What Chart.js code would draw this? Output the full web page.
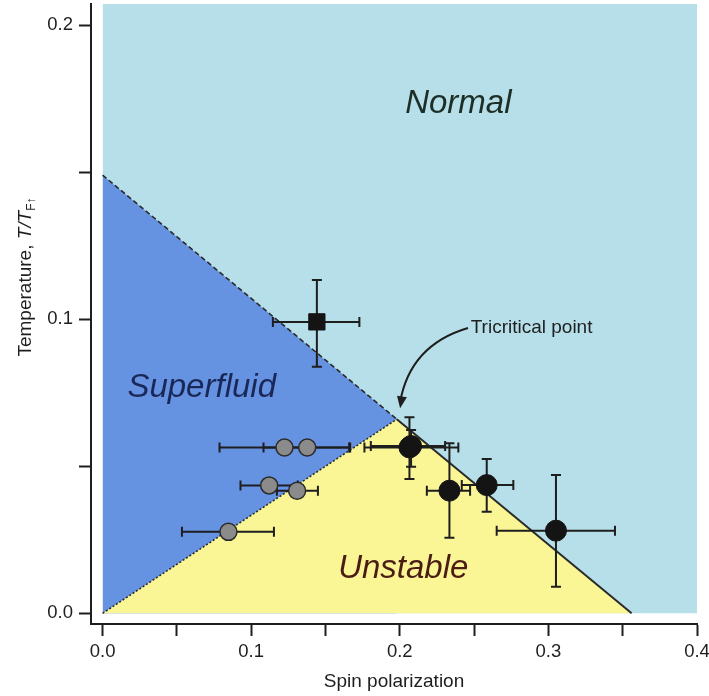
<!DOCTYPE html>
<html>
<head>
<meta charset="utf-8">
<script src="https://cdn.jsdelivr.net/npm/chart.js@4.4.1/dist/chart.umd.min.js"></script>
<style>
  html, body { margin: 0; padding: 0; background: #fff; }
  #wrap { width: 709px; height: 696px; }
</style>
</head>
<body>
<div id="wrap"><canvas id="phase" width="709" height="696"></canvas></div>
<script>
'use strict';

// phase boundary, spin polarization P vs temperature T/T_F
const tricritP = 0.198;
const tricritT = 0.066;
const dashedP = [0, tricritP];
const dashedT = [0.149, tricritT];
const dottedP = [0, tricritP];
const dottedT = [0, tricritT];
const solidP = [tricritP, 0.356];
const solidT = [tricritT, 0];
const topT = 0.2072;

// grey circles (horizontal error bars only)
const grayP = [0.1224, 0.1377, 0.1121, 0.1309, 0.0847];
const grayT = [0.0564, 0.0564, 0.0435, 0.0417, 0.0277];
const grayPLo = [0.0787, 0.1083, 0.0928, 0.1173, 0.0534];
const grayPHi = [0.1659, 0.1666, 0.1314, 0.1449, 0.1153];

// black circles
const blackP = [0.2065, 0.2076, 0.2334, 0.2585, 0.3051];
const blackT = [0.0564, 0.0569, 0.0417, 0.0436, 0.0281];
const blackPLo = [0.1762, 0.1805, 0.2182, 0.2417, 0.2652];
const blackPHi = [0.2394, 0.2305, 0.2473, 0.2764, 0.3448];
const blackTLo = [0.0457, 0.0498, 0.0257, 0.0345, 0.0090];
const blackTHi = [0.0667, 0.0623, 0.0578, 0.0525, 0.0470];

// black square
const squareP = [0.1442];
const squareT = [0.0991];
const squarePLo = [0.1146];
const squarePHi = [0.1728];
const squareTLo = [0.0838];
const squareTHi = [0.1133];

const xTicks = [0, 0.05, 0.1, 0.15, 0.2, 0.25, 0.3, 0.35, 0.4];
const xLabels = ['0.0', '', '0.1', '', '0.2', '', '0.3', '', '0.4'];
const yTicks = [0, 0.05, 0.1, 0.15, 0.2];
const yLabels = ['0.0', '', '0.1', '', '0.2'];

const FONT = '"Liberation Sans", Arial, Helvetica, sans-serif';
const INK = '#1e1e1e';

function pts(xs, ys) {
  return xs.map((v, i) => ({ x: v, y: ys[i] }));
}

function errs(n, pLo, pHi, tLo, tHi) {
  const out = [];
  for (let i = 0; i < n; i++) {
    out.push({
      pl: pLo ? pLo[i] : null, ph: pHi ? pHi[i] : null,
      tl: tLo ? tLo[i] : null, th: tHi ? tHi[i] : null
    });
  }
  return out;
}

// error bars go under their markers
const errorBars = {
  id: 'errorBars',
  beforeDatasetDraw(chart, args) {
    const ds = chart.data.datasets[args.index];
    if (!ds.err) return;
    const ctx = chart.ctx;
    const x = chart.scales.x, y = chart.scales.y;
    const cap = 5;
    ctx.save();
    ctx.strokeStyle = INK;
    ctx.lineWidth = 2;
    ds.err.forEach((e, i) => {
      const px = x.getPixelForValue(ds.data[i].x);
      const py = y.getPixelForValue(ds.data[i].y);
      ctx.beginPath();
      if (e.pl != null) {
        const a = x.getPixelForValue(e.pl), b = x.getPixelForValue(e.ph);
        ctx.moveTo(a, py); ctx.lineTo(b, py);
        ctx.moveTo(a, py - cap); ctx.lineTo(a, py + cap);
        ctx.moveTo(b, py - cap); ctx.lineTo(b, py + cap);
      }
      if (e.tl != null) {
        const a = y.getPixelForValue(e.tl), b = y.getPixelForValue(e.th);
        ctx.moveTo(px, a); ctx.lineTo(px, b);
        ctx.moveTo(px - cap, a); ctx.lineTo(px + cap, a);
        ctx.moveTo(px - cap, b); ctx.lineTo(px + cap, b);
      }
      ctx.stroke();
    });
    ctx.restore();
  }
};

// region names, annotation and the y title with its subscript
const labels = {
  id: 'labels',
  afterDatasetsDraw(chart) {
    const ctx = chart.ctx;
    const x = chart.scales.x, y = chart.scales.y;
    ctx.save();
    ctx.textBaseline = 'alphabetic';
    ctx.textAlign = 'left';

    ctx.font = 'italic 33px ' + FONT;
    ctx.fillStyle = '#1d2e27';
    ctx.fillText('Normal', x.getPixelForValue(0.2036), y.getPixelForValue(0.1701));
    ctx.fillStyle = '#1a2858';
    ctx.fillText('Superfluid', x.getPixelForValue(0.0167), y.getPixelForValue(0.0735));
    ctx.fillStyle = '#4a1c14';
    ctx.fillText('Unstable', x.getPixelForValue(0.1585), y.getPixelForValue(0.012));

    ctx.font = '19px ' + FONT;
    ctx.fillStyle = INK;
    ctx.fillText('Tricritical point', x.getPixelForValue(0.2477), y.getPixelForValue(0.0954));

    // curved arrow to the tricritical point
    const sx = x.getPixelForValue(0.2459), sy = y.getPixelForValue(0.097);
    const cx = x.getPixelForValue(0.207), cy = y.getPixelForValue(0.0912);
    const ex = x.getPixelForValue(0.2002), ey = y.getPixelForValue(0.0697);
    ctx.strokeStyle = INK;
    ctx.lineWidth = 2;
    ctx.beginPath();
    ctx.moveTo(sx, sy);
    ctx.quadraticCurveTo(cx, cy, ex, ey - 6);
    ctx.stroke();
    const ang = Math.atan2(ey - cy, ex - cx);
    const L = 12, W = 5;
    ctx.fillStyle = INK;
    ctx.beginPath();
    ctx.moveTo(ex, ey);
    ctx.lineTo(ex - L * Math.cos(ang) + W * Math.sin(ang), ey - L * Math.sin(ang) - W * Math.cos(ang));
    ctx.lineTo(ex - L * Math.cos(ang) - W * Math.sin(ang), ey - L * Math.sin(ang) + W * Math.cos(ang));
    ctx.closePath();
    ctx.fill();

    // x title
    ctx.font = '19px ' + FONT;
    ctx.textAlign = 'center';
    ctx.fillText('Spin polarization', (chart.chartArea.left + chart.chartArea.right) / 2, 687);

    // y title, rotated
    ctx.translate(31, 277);
    ctx.rotate(-Math.PI / 2);
    ctx.textAlign = 'left';
    const parts = [
      { t: 'Temperature, ', f: '19px ' + FONT, dy: 0 },
      { t: 'T/T', f: 'italic 19px ' + FONT, dy: 0 },
      { t: 'F\u2191', f: '12px ' + FONT, dy: 4 }
    ];
    let total = 0;
    parts.forEach(p => { ctx.font = p.f; p.w = ctx.measureText(p.t).width; total += p.w; });
    let cur = -total / 2;
    parts.forEach(p => { ctx.font = p.f; ctx.fillText(p.t, cur, p.dy); cur += p.w; });
    ctx.restore();
  }
};

function region(data, color, order) {
  return {
    type: 'line', data: data, showLine: true, fill: 'origin',
    backgroundColor: color, borderColor: 'transparent', borderWidth: 0,
    pointRadius: 0, tension: 0, order: order
  };
}

function boundary(data, dash, width, order) {
  return {
    type: 'line', data: data, showLine: true, fill: false,
    borderColor: '#2a2a2a', borderWidth: width, borderDash: dash,
    pointRadius: 0, tension: 0, order: order
  };
}

const ctxPhase = document.getElementById('phase');
const chart = new Chart(ctxPhase, {
  type: 'scatter',
  data: {
    datasets: [
      region(pts([0, 0.4], [topT, topT]), 'rgb(182, 223, 233)', 20),
      region(pts(dashedP, dashedT), 'rgb(102, 146, 226)', 19),
      region(pts([0, tricritP, solidP[1]], [0, tricritT, 0]), 'rgb(250, 246, 150)', 18),
      boundary(pts(dashedP, dashedT), [5, 3], 1.6, 10),
      boundary(pts(dottedP, dottedT), [2, 2], 1.6, 10),
      boundary(pts(solidP, solidT), [], 2, 10),
      {
        data: pts(grayP, grayT),
        err: errs(grayP.length, grayPLo, grayPHi, null, null),
        pointRadius: 8.5, pointBackgroundColor: '#8b8b8b',
        pointBorderColor: '#2b2b2b', pointBorderWidth: 1.5, order: 3
      },
      {
        data: pts(blackP, blackT),
        err: errs(blackP.length, blackPLo, blackPHi, blackTLo, blackTHi),
        pointRadius: 10.5, pointBackgroundColor: '#141414',
        pointBorderColor: '#141414', pointBorderWidth: 1, order: 2
      },
      {
        data: pts(squareP, squareT),
        err: errs(1, squarePLo, squarePHi, squareTLo, squareTHi),
        pointStyle: 'rect', pointRadius: 11.5, pointBackgroundColor: '#141414',
        pointBorderColor: '#141414', pointBorderWidth: 1, order: 1
      }
    ]
  },
  options: {
    responsive: false,
    animation: false,
    devicePixelRatio: 1,
    layout: { autoPadding: false, padding: { top: 4, right: 12, left: 0, bottom: 0 } },
    plugins: { legend: { display: false }, tooltip: { enabled: false } },
    scales: {
      x: {
        type: 'linear', min: -0.0078, max: 0.4,
        afterBuildTicks: s => { s.ticks = xTicks.map(v => ({ value: v })); },
        afterFit: s => { s.height = 72; s.paddingLeft = 0; s.paddingRight = 0; },
        ticks: {
          callback: v => xLabels[xTicks.findIndex(t => Math.abs(t - v) < 1e-9)] || '',
          autoSkip: false, maxRotation: 0, padding: 5,
          color: INK, font: { family: FONT, size: 18.5 }
        },
        grid: { drawOnChartArea: false, drawTicks: true, tickLength: 12, tickColor: INK, tickWidth: 2 },
        border: { display: true, color: INK, width: 2 }
      },
      y: {
        type: 'linear', min: -0.00364, max: topT,
        afterBuildTicks: s => { s.ticks = yTicks.map(v => ({ value: v })); },
        afterFit: s => { s.width = 91; s.paddingTop = 0; s.paddingBottom = 0; },
        ticks: {
          callback: v => yLabels[yTicks.findIndex(t => Math.abs(t - v) < 1e-9)] || '',
          autoSkip: false, padding: 6,
          color: INK, font: { family: FONT, size: 18.5 }
        },
        grid: { drawOnChartArea: false, drawTicks: true, tickLength: 12, tickColor: INK, tickWidth: 2 },
        border: { display: true, color: INK, width: 2 }
      }
    }
  },
  plugins: [errorBars, labels]
});
</script>
</body>
</html>
